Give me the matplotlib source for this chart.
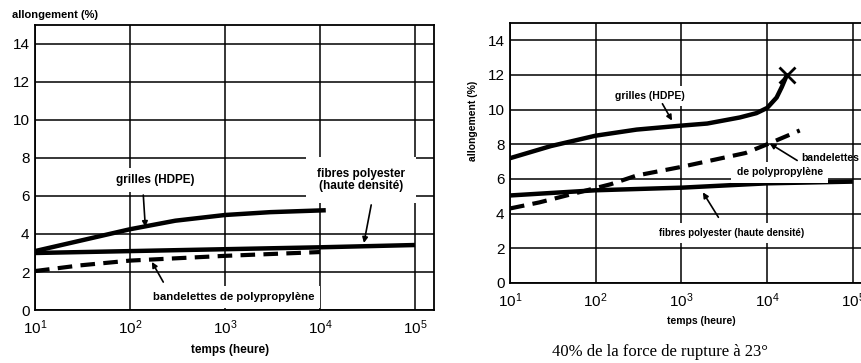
import math
import matplotlib
matplotlib.use("Agg")
import matplotlib.pyplot as plt
from matplotlib.ticker import FixedLocator, FuncFormatter, NullLocator

plt.rcParams['font.family'] = ['Liberation Sans', 'DejaVu Sans']
plt.rcParams['mathtext.default'] = 'regular'

# --- fluage a gauche : allongement (%) en fonction du temps (heures)
g_grilles_t = [10, 100, 300, 1000, 3000, 11500]
g_grilles_y = [3.1, 4.25, 4.7, 5.0, 5.15, 5.25]
g_fibres_t = [10, 100, 1000, 10000, 100000]
g_fibres_y = [3.0, 3.1, 3.2, 3.3, 3.42]
g_bandes_t = [10, 30, 100, 1000, 10000]
g_bandes_y = [2.05, 2.35, 2.6, 2.85, 3.05]

# --- fluage a droite : 40% de la force de rupture
d_grilles_t = [10, 30, 100, 300, 1000, 2000, 4800, 7500, 10000, 12900, 14800, 17000]
d_grilles_y = [7.2, 7.9, 8.5, 8.85, 9.08, 9.2, 9.55, 9.8, 10.1, 10.7, 11.3, 12.0]
d_fibres_t = [10, 100, 1000, 10000, 100000]
d_fibres_y = [5.05, 5.35, 5.5, 5.75, 5.85]
d_bandes_t = [10, 22, 150, 300, 1000, 5600, 10000, 24000]
d_bandes_y = [4.3, 4.65, 5.7, 6.2, 6.7, 7.5, 8.0, 8.8]

x_ticks = [10, 100, 1000, 10000, 100000]
y_ticks = [0, 2, 4, 6, 8, 10, 12, 14]

W, H = 862, 363
fig = plt.figure(figsize=(W / 100, H / 100), dpi=100)


def px_axes(l, t, r, b):
    return fig.add_axes([l / W, 1 - b / H, (r - l) / W, (b - t) / H])


def setup(ax, fs):
    ax.set_xscale('log')
    ax.set_xlim(10, 10 ** 5.2)
    ax.set_ylim(0, 15)
    ax.xaxis.set_major_locator(FixedLocator(x_ticks))
    ax.xaxis.set_minor_locator(NullLocator())
    ax.xaxis.set_major_formatter(FuncFormatter(lambda v, p: r'$10^{%d}$' % round(math.log10(v))))
    ax.set_yticks(y_ticks)
    ax.tick_params(axis='y', length=0, labelsize=fs, pad=4)
    ax.tick_params(axis='x', length=0, labelsize=fs, pad=6)
    ax.grid(True, color='black', lw=1.1)
    for s in ax.spines.values():
        s.set_linewidth(1.3)


box = dict(boxstyle='square,pad=0.5', fc='white', ec='none')
arrow = dict(arrowstyle='-|>', color='black', lw=1.2, mutation_scale=8, shrinkA=0, shrinkB=0)

# panneau gauche
ax1 = px_axes(35, 25, 434, 310)
setup(ax1, 11)
ax1.plot(g_grilles_t, g_grilles_y, color='black', lw=3.2, solid_capstyle='butt')
ax1.plot(g_fibres_t, g_fibres_y, color='black', lw=3.2, solid_capstyle='butt')
ax1.plot(g_bandes_t, g_bandes_y, color='black', lw=3.0, ls=(0, (3.5, 2)))
ax1.text(186, 6.84, 'grilles (HDPE)', ha='center', va='center', fontsize=8.5, fontweight='bold', bbox=box)
ax1.annotate('', xy=(145, 4.37), xytext=(138, 6.05), arrowprops=arrow)
ax1.text(27000, 6.84, 'fibres polyester\n(haute densité)', ha='center', va='center', fontsize=8.5,
         fontweight='bold', linespacing=1.1, bbox=dict(boxstyle='square,pad=0.9', fc='white', ec='none'))
ax1.annotate('', xy=(29000, 3.53), xytext=(34600, 5.53), arrowprops=arrow)
ax1.text(1230, 0.68, 'bandelettes de polypropylène', ha='center', va='center', fontsize=8.2,
         fontweight='bold', bbox=box)
ax1.annotate('', xy=(170, 2.53), xytext=(224, 1.47), arrowprops=arrow)
fig.text(12 / W, 1 - 15 / H, 'allongement (%)', ha='left', va='center', fontsize=8, fontweight='bold')
fig.text(230 / W, 1 - 350 / H, 'temps (heure)', ha='center', va='center', fontsize=8.5, fontweight='bold')

# panneau droit
ax2 = px_axes(510, 23, 870, 283)
setup(ax2, 11)
ax2.plot(d_grilles_t, d_grilles_y, color='black', lw=3.2, solid_capstyle='butt')
ax2.plot(d_grilles_t[-1:], d_grilles_y[-1:], marker='x', color='black', ms=11, mew=2)
ax2.plot(d_fibres_t, d_fibres_y, color='black', lw=3.2, solid_capstyle='butt')
ax2.plot(d_bandes_t, d_bandes_y, color='black', lw=3.0, ls=(0, (3.5, 2)))
ax2.text(427, 10.8, 'grilles (HDPE)', ha='center', va='center', fontsize=7.5, fontweight='bold', bbox=box)
ax2.annotate('', xy=(776, 9.37), xytext=(600, 10.34), arrowprops=arrow)
ax2.text(25000, 7.24, 'bandelettes', ha='left', va='center', fontsize=7.5, fontweight='bold')
ax2.text(14000, 6.38, 'de polypropylène', ha='center', va='center', fontsize=7.5, fontweight='bold', bbox=box)
ax2.annotate('', xy=(10700, 8.05), xytext=(22400, 7.07), arrowprops=arrow)
ax2.text(3900, 2.87, 'fibres polyester (haute densité)', ha='center', va='center', fontsize=7,
         fontweight='bold', bbox=box)
ax2.annotate('', xy=(1780, 5.23), xytext=(2700, 3.79), arrowprops=arrow)
fig.text(473 / W, 1 - 121 / H, 'allongement (%)', rotation=90, ha='center', va='center', fontsize=7.5,
         fontweight='bold')
fig.text(701 / W, 1 - 321 / H, 'temps (heure)', ha='center', va='center', fontsize=7.5, fontweight='bold')
fig.text(660 / W, 1 - 352 / H, '40% de la force de rupture à 23°', ha='center', va='center', fontsize=12,
         family=['Liberation Serif', 'DejaVu Serif'])

fig.savefig('out.png', dpi=100)
